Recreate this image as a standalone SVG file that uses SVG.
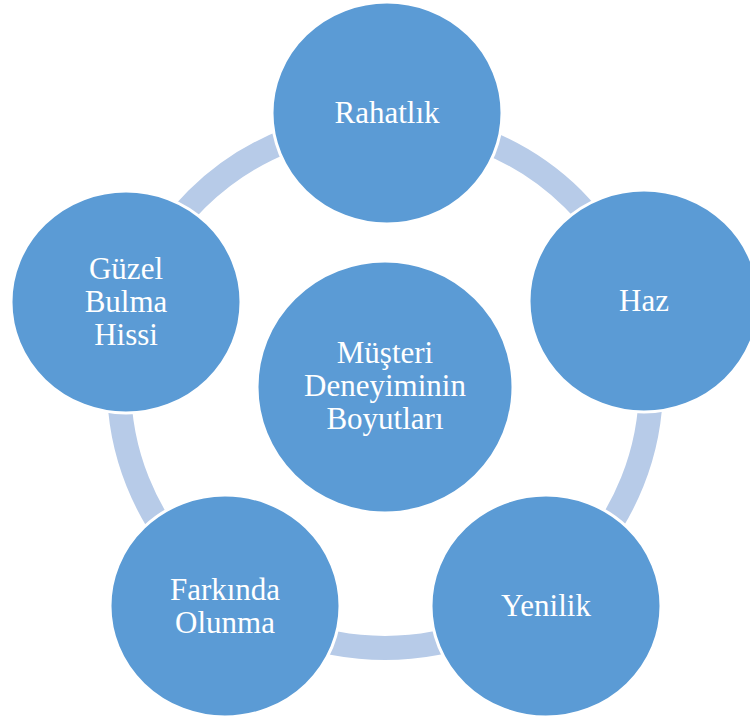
<svg xmlns="http://www.w3.org/2000/svg" width="750" height="720" viewBox="0 0 750 720">
<style>
.node{fill:#5B9BD5;stroke:#FFFFFF;stroke-width:3}
.lbl{font-family:"Liberation Serif","Times New Roman",serif;font-size:31px;fill:#FFFFFF;text-anchor:middle}
.ring{fill:none;stroke:#B7CBE8;stroke-width:24}
</style>
<rect width="750" height="720" fill="#FFFFFF"/>
<g id="connectors">
<ellipse class="ring" cx="385" cy="385" rx="266" ry="263"/>
</g>
<g id="center">
<ellipse class="node" cx="385" cy="387" rx="128" ry="126"/>
<text class="lbl" x="385" y="363">Müşteri</text>
<text class="lbl" x="385" y="396">Deneyiminin</text>
<text class="lbl" x="385" y="429">Boyutları</text>
</g>
<g id="rahatlik">
<ellipse class="node" cx="387" cy="113" rx="115" ry="111"/>
<text class="lbl" x="387" y="123">Rahatlık</text>
</g>
<g id="haz">
<ellipse class="node" cx="644" cy="301" rx="115" ry="111"/>
<text class="lbl" x="644" y="311">Haz</text>
</g>
<g id="yenilik">
<ellipse class="node" cx="546" cy="606" rx="115" ry="111"/>
<text class="lbl" x="546" y="616">Yenilik</text>
</g>
<g id="farkinda">
<ellipse class="node" cx="225" cy="606" rx="115" ry="111"/>
<text class="lbl" x="225" y="600">Farkında</text>
<text class="lbl" x="225" y="633">Olunma</text>
</g>
<g id="guzel">
<ellipse class="node" cx="126" cy="302" rx="115" ry="111"/>
<text class="lbl" x="126" y="279">Güzel</text>
<text class="lbl" x="126" y="312">Bulma</text>
<text class="lbl" x="126" y="345">Hissi</text>
</g>
</svg>
